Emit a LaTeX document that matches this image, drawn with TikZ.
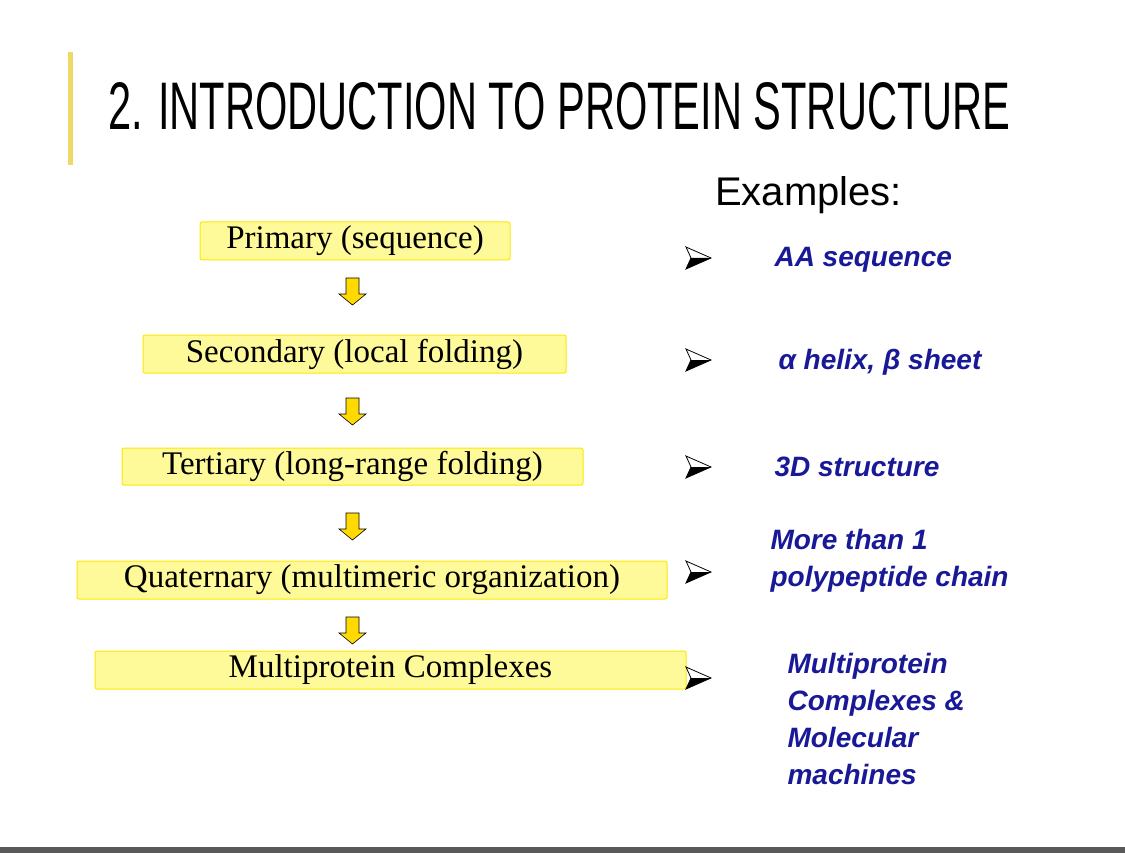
\documentclass[tikz,border=0pt]{standalone}
\usepackage{fontspec}
\setmainfont{Liberation Serif}
\newfontfamily\sansf{Liberation Sans}
\usepackage{graphicx}
\begin{document}
\begin{tikzpicture}[x=1pt,y=-1pt,
  lvl/.style={fill=yellow!40!white, draw=yellow!90!orange, line width=1pt, rounded corners=2pt, inner sep=0pt, font=\fontsize{33}{33}\selectfont},
  ex/.style={anchor=west, text=blue!55!black!90, font=\sansf\bfseries\itshape\fontsize{28}{37}\selectfont, align=left},
  darr/.style={fill=orange!30!yellow, draw=black, line width=0.6pt}]
\useasboundingbox (0,0) rectangle (1125,853);
\fill[yellow!60!brown!70!white] (68,52) rectangle (73,165);
\fill[black!65] (0,847) rectangle (1125,853);
\node[anchor=west, inner sep=0] (title) at (108,106) {\resizebox{902pt}{47pt}{\sansf 2. INTRODUCTION TO PROTEIN STRUCTURE}};
\node[anchor=west, inner sep=0, font=\sansf\fontsize{40}{40}\selectfont] (exh) at (715,195) {Examples:};
\node[lvl, minimum width=310, minimum height=38] (p1) at (355,241) {Primary (sequence)};
\node[lvl, minimum width=423, minimum height=38] (p2) at (354.5,354) {Secondary (local folding)};
\node[lvl, minimum width=461, minimum height=37] (p3) at (352.5,466.5) {Tertiary (long-range folding)};
\node[lvl, minimum width=590, minimum height=38] (p4) at (372,580) {Quaternary (multimeric organization)};
\node[lvl, minimum width=591, minimum height=38] (p5) at (390.5,670) {Multiprotein Complexes};
\foreach \y in {278,398,513,617}{
  \draw[darr] (346,\y) -- (359,\y) -- (359,\y+16) -- (366,\y+16) -- (352.5,\y+27) -- (339,\y+16) -- (346,\y+16) -- cycle;}
\foreach \y/\n in {258/b1,360/b2,467/b3,572/b4,678/b5}{
  \coordinate (\n) at (697,\y);
  \fill[black] (686,\y+11) -- (711,\y) -- (691,\y) -- cycle;
  \draw[black, line width=0.8pt, line join=miter] (686,\y-11) -- (711,\y) -- (686,\y+11) -- (691,\y) -- cycle;}
\node[ex] (e1) at (771,260) {AA sequence};
\node[ex] (e2) at (775,362) {\sansf\bfseries\itshape α helix, β sheet};
\node[ex] (e3) at (771,467) {3D structure};
\node[ex] (e4) at (767,561) {More than 1\\polypeptide chain};
\node[ex] (e5) at (784,719) {Multiprotein\\Complexes \&\\Molecular\\machines};
\end{tikzpicture}
\end{document}
